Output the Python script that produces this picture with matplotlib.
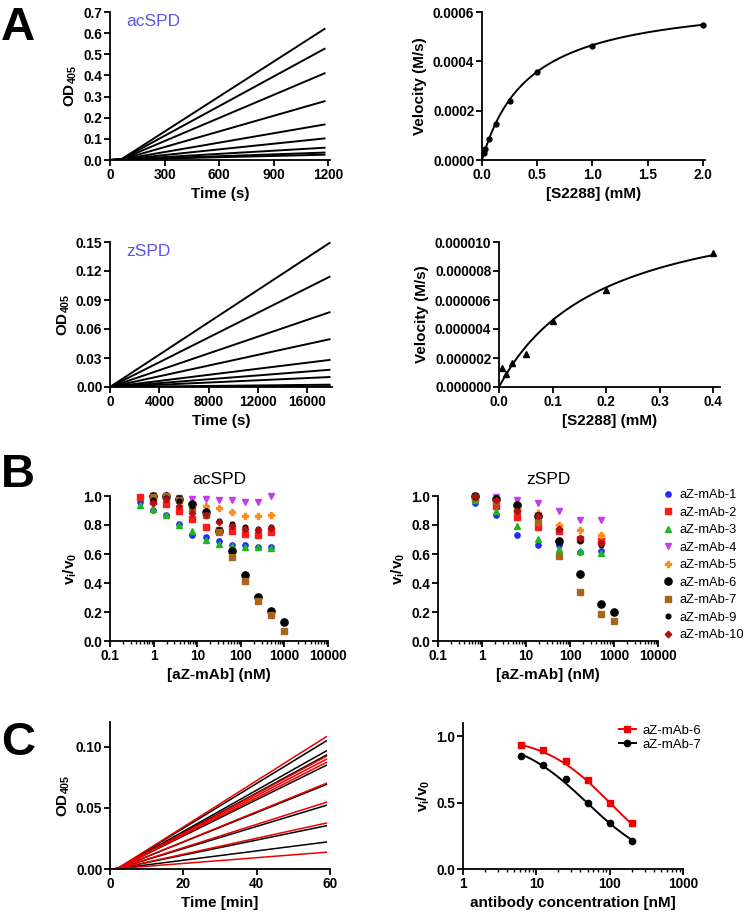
import numpy as np
import matplotlib
matplotlib.use("Agg")
import matplotlib.pyplot as plt
from matplotlib.ticker import LogLocator, NullFormatter, FormatStrFormatter

plt.rcParams['font.family'] = ['Liberation Sans', 'DejaVu Sans']
plt.rcParams['font.weight'] = 'bold'
plt.rcParams['axes.labelweight'] = 'bold'
plt.rcParams['mathtext.fontset'] = 'custom'
plt.rcParams['mathtext.rm'] = 'Liberation Sans:bold'
plt.rcParams['mathtext.it'] = 'Liberation Sans:bold'
plt.rcParams['mathtext.bf'] = 'Liberation Sans:bold'
plt.rcParams['mathtext.default'] = 'regular'

# ---------------- data ----------------
# Panel A, acSPD progress curves (OD405 at end of run)
acspd_t = [0, 60, 1180]
acspd_end = [0.62, 0.526, 0.41, 0.278, 0.168, 0.102, 0.058, 0.035, 0.025]
acspd_start = [0.0, 0.002]
# Panel A, acSPD Michaelis-Menten
acspd_S = [0.0156, 0.03125, 0.0625, 0.125, 0.25, 0.5, 1.0, 2.0]
acspd_V = [0.000030, 0.000045, 0.000085, 0.000146, 0.000240, 0.000357, 0.000462, 0.000548]
acspd_Vmax, acspd_Km = 0.000666, 0.43
# Panel A, zSPD progress curves
zspd_t = [0, 17800]
zspd_end = [0.149, 0.114, 0.0773, 0.0494, 0.028, 0.0178, 0.0103, 0.0024, 0.0007]
# Panel A, zSPD Michaelis-Menten
zspd_S = [0.00625, 0.0125, 0.025, 0.05, 0.1, 0.2, 0.4]
zspd_V = [1.30e-6, 0.92e-6, 1.65e-6, 2.29e-6, 4.58e-6, 6.68e-6, 9.27e-6]
zspd_Vmax, zspd_Km = 1.349e-5, 0.193

# Panel B
mab_names = ['aZ-mAb-1', 'aZ-mAb-2', 'aZ-mAb-3', 'aZ-mAb-4', 'aZ-mAb-5',
             'aZ-mAb-6', 'aZ-mAb-7', 'aZ-mAb-9', 'aZ-mAb-10']
ac_conc_11 = [0.49, 0.98, 1.95, 3.9, 7.8, 15.6, 31.25, 62.5, 125, 250, 500]
ac_conc_10 = [0.98, 1.95, 3.9, 7.8, 15.6, 31.25, 62.5, 125, 250, 500]
ac_conc_hi = [0.98, 1.95, 3.9, 7.8, 15.6, 31.25, 62.5, 125, 250, 500, 1000]
ac_vals = {
    'aZ-mAb-1': [0.959, 0.906, 0.867, 0.807, 0.733, 0.717, 0.687, 0.664, 0.660, 0.646, 0.646],
    'aZ-mAb-2': [0.993, 0.968, 0.945, 0.894, 0.844, 0.786, 0.763, 0.761, 0.740, 0.729, 0.749],
    'aZ-mAb-3': [0.940, 0.910, 0.870, 0.800, 0.756, 0.700, 0.670, 0.653, 0.646, 0.645, 0.640],
    'aZ-mAb-4': [1.000, 0.998, 0.986, 0.979, 0.979, 0.975, 0.975, 0.959, 0.956, 0.998],
    'aZ-mAb-5': [0.990, 0.990, 0.975, 0.945, 0.933, 0.917, 0.890, 0.864, 0.864, 0.867],
    'aZ-mAb-6': [1.000, 1.000, 0.980, 0.945, 0.890, 0.756, 0.618, 0.457, 0.303, 0.205, 0.129],
    'aZ-mAb-7': [0.990, 1.000, 0.975, 0.920, 0.870, 0.750, 0.580, 0.416, 0.274, 0.177, 0.071],
    'aZ-mAb-9': [0.970, 0.985, 0.963, 0.930, 0.894, 0.825, 0.807, 0.784, 0.775, 0.784],
    'aZ-mAb-10': [0.950, 0.980, 0.929, 0.883, 0.870, 0.818, 0.790, 0.775, 0.768, 0.780],
}
ac_x = {'aZ-mAb-1': ac_conc_11, 'aZ-mAb-2': ac_conc_11, 'aZ-mAb-3': ac_conc_11,
        'aZ-mAb-4': ac_conc_10, 'aZ-mAb-5': ac_conc_10, 'aZ-mAb-6': ac_conc_hi,
        'aZ-mAb-7': ac_conc_hi, 'aZ-mAb-9': ac_conc_10, 'aZ-mAb-10': ac_conc_10}

z_conc_7 = [0.686, 2.06, 6.17, 18.5, 55.6, 166.7, 500]
z_conc_8 = [0.686, 2.06, 6.17, 18.5, 55.6, 166.7, 500, 1000]
z_vals = {
    'aZ-mAb-1': [0.952, 0.867, 0.733, 0.660, 0.660, 0.616, 0.618],
    'aZ-mAb-2': [0.986, 0.929, 0.853, 0.786, 0.756, 0.706, 0.692],
    'aZ-mAb-3': [0.975, 0.894, 0.795, 0.706, 0.634, 0.620, 0.607],
    'aZ-mAb-4': [0.995, 0.993, 0.970, 0.952, 0.894, 0.837, 0.837],
    'aZ-mAb-5': [0.990, 0.970, 0.900, 0.885, 0.802, 0.763, 0.733],
    'aZ-mAb-6': [0.998, 0.980, 0.940, 0.860, 0.692, 0.462, 0.257, 0.198],
    'aZ-mAb-7': [0.985, 0.963, 0.906, 0.820, 0.584, 0.338, 0.186, 0.136],
    'aZ-mAb-9': [0.995, 0.985, 0.930, 0.870, 0.770, 0.690, 0.660],
    'aZ-mAb-10': [1.000, 0.975, 0.895, 0.860, 0.770, 0.710, 0.675],
}
z_x = {k: (z_conc_8 if k in ('aZ-mAb-6', 'aZ-mAb-7') else z_conc_7) for k in mab_names}

mab_colors = ['#1f2bff', '#ff1a1a', '#22b522', '#c23cf0', '#ff8c1a',
              '#000000', '#a8661c', '#000000', '#b01010']
mab_markers = ['o', 's', '^', 'v', 'P', 'o', 's', 'o', 'D']
mab_sizes = [3.8, 4.3, 4.3, 4.3, 4.5, 5.2, 4.8, 3.4, 3.3]

# Panel C left
c_t = [0, 2, 59]
c_red_end = [0.108, 0.092, 0.0896, 0.087, 0.070, 0.0545, 0.0375, 0.0137]
c_black_end = [0.1046, 0.0964, 0.093, 0.0847, 0.069, 0.052, 0.0353, 0.022]
# Panel C right
c_conc = [6.25, 12.5, 25, 50, 100, 200]
c_mab6 = [0.935, 0.900, 0.810, 0.670, 0.500, 0.350]
c_mab7 = [0.850, 0.785, 0.680, 0.495, 0.345, 0.210]
c_fit6 = dict(top=1.0, bottom=0.0, ic50=100.0, h=0.96)
c_fit7 = dict(top=1.0, bottom=0.0, ic50=49.0, h=0.90)

# ---------------- figure ----------------
W, H = 745, 913
fig = plt.figure(figsize=(W / 100, H / 100), dpi=100)
TICK = 9.8
LAB = 11


def ax_px(l, t, r, b):
    ax = fig.add_axes([l / W, 1 - b / H, (r - l) / W, (b - t) / H])
    for s in ('top', 'right'):
        ax.spines[s].set_visible(False)
    for s in ('left', 'bottom'):
        ax.spines[s].set_linewidth(1.3)
    ax.tick_params(which='major', direction='out', length=4, width=1.3, labelsize=TICK, pad=1.5)
    ax.tick_params(which='minor', direction='out', length=2.5, width=1.0)
    return ax


def style_ticks(ax):
    for lab in ax.get_xticklabels() + ax.get_yticklabels():
        lab.set_fontweight('bold')


blue_title = '#5a55ee'
OD_LABEL = 'OD$_{\\mathregular{405}}$'

# A1
ax = ax_px(110, 12, 330, 160)
for e in acspd_end:
    ax.plot(acspd_t, acspd_start + [e], color='black', lw=1.4)
ax.set_xlim(0, 1210)
ax.set_ylim(0, 0.7)
ax.set_xticks([0, 300, 600, 900, 1200])
ax.set_yticks(np.arange(0, 0.71, 0.1))
ax.yaxis.set_major_formatter(FormatStrFormatter('%.1f'))
ax.set_xlabel('Time (s)', fontsize=LAB, labelpad=4)
ax.set_ylabel(OD_LABEL, fontsize=LAB, labelpad=3)
ax.text(0.075, 0.985, 'acSPD', transform=ax.transAxes, color=blue_title, fontsize=12.5,
        fontweight='normal', va='top')
style_ticks(ax)

# A2
ax = ax_px(482, 12, 705, 160)
Sfit = np.linspace(0, 2.0, 300)
ax.plot(Sfit, acspd_Vmax * Sfit / (acspd_Km + Sfit), color='black', lw=1.4)
ax.plot(acspd_S, acspd_V, 'o', color='black', ms=3.5, clip_on=False)
ax.set_xlim(0, 2.02)
ax.set_ylim(0, 0.0006)
ax.set_xticks([0, 0.5, 1.0, 1.5, 2.0])
ax.xaxis.set_major_formatter(FormatStrFormatter('%.1f'))
ax.set_yticks([0, 0.0002, 0.0004, 0.0006])
ax.yaxis.set_major_formatter(FormatStrFormatter('%.4f'))
ax.set_xlabel('[S2288] (mM)', fontsize=LAB, labelpad=4)
ax.set_ylabel('Velocity (M/s)', fontsize=LAB, labelpad=4)
style_ticks(ax)

# A3
ax = ax_px(110, 242, 332, 387)
for e in zspd_end:
    ax.plot(zspd_t, [0, e], color='black', lw=1.4)
ax.set_xlim(0, 18000)
ax.set_ylim(0, 0.15)
ax.set_xticks([0, 4000, 8000, 12000, 16000])
ax.set_yticks([0, 0.03, 0.06, 0.09, 0.12, 0.15])
ax.yaxis.set_major_formatter(FormatStrFormatter('%.2f'))
ax.set_xlabel('Time (s)', fontsize=LAB, labelpad=4)
ax.set_ylabel(OD_LABEL, fontsize=LAB, labelpad=3)
ax.text(0.075, 0.985, 'zSPD', transform=ax.transAxes, color=blue_title, fontsize=12.5,
        fontweight='normal', va='top')
style_ticks(ax)

# A4
ax = ax_px(499, 242, 720, 387)
Sfit = np.linspace(0, 0.4, 300)
ax.plot(Sfit, zspd_Vmax * Sfit / (zspd_Km + Sfit), color='black', lw=1.4)
ax.plot(zspd_S, zspd_V, '^', color='black', ms=3.8, clip_on=False)
ax.set_xlim(0, 0.413)
ax.set_ylim(0, 0.00001)
ax.set_xticks([0, 0.1, 0.2, 0.3, 0.4])
ax.xaxis.set_major_formatter(FormatStrFormatter('%.1f'))
ax.set_yticks([0, 2e-6, 4e-6, 6e-6, 8e-6, 1e-5])
ax.yaxis.set_major_formatter(FormatStrFormatter('%.6f'))
ax.set_xlabel('[S2288] (mM)', fontsize=LAB, labelpad=4)
ax.set_ylabel('Velocity (M/s)', fontsize=LAB, labelpad=4)
style_ticks(ax)


def panel_b(ax, xs, vals, title):
    handles = []
    for name, c, m, s in zip(mab_names, mab_colors, mab_markers, mab_sizes):
        h, = ax.plot(xs[name], vals[name], linestyle='none', marker=m, color=c,
                     ms=s, mec=c, clip_on=False, label=name)
        handles.append(h)
    ax.set_xscale('log')
    ax.set_xlim(0.1, 10000)
    ax.set_ylim(0, 1.0)
    ax.set_xticks([0.1, 1, 10, 100, 1000, 10000])
    ax.set_xticklabels(['0.1', '1', '10', '100', '1000', '10000'])
    ax.xaxis.set_minor_locator(LogLocator(base=10, subs=np.arange(2, 10)))
    ax.xaxis.set_minor_formatter(NullFormatter())
    ax.set_yticks(np.arange(0, 1.01, 0.2))
    ax.yaxis.set_major_formatter(FormatStrFormatter('%.1f'))
    ax.set_xlabel('[aZ-mAb] (nM)', fontsize=LAB, labelpad=4)
    ax.set_ylabel('v$_i$/v$_0$', fontsize=LAB, labelpad=3)
    ax.set_title(title, fontsize=12.5, fontweight='normal', pad=9)
    style_ticks(ax)
    return handles


ax = ax_px(110, 496, 328, 641)
panel_b(ax, ac_x, ac_vals, 'acSPD')
ax = ax_px(438, 496, 658, 641)
hs = panel_b(ax, z_x, z_vals, 'zSPD')
leg = ax.legend(handles=hs, loc='upper left', bbox_to_anchor=(656 / W, 1 - 483 / H),
                bbox_transform=fig.transFigure, frameon=False, fontsize=9.3,
                handlelength=0.8, handletextpad=0.55, labelspacing=0.42, borderpad=0)
for t in leg.get_texts():
    t.set_fontweight('normal')

# C1
ax = ax_px(110, 722, 330, 869)
for e in c_black_end:
    ax.plot(c_t, [0, 0.0003, e], color='black', lw=1.1)
for e in c_red_end:
    ax.plot(c_t, [0, 0.0003, e], color='#ee0000', lw=1.1)
ax.set_xlim(0, 60)
ax.set_ylim(0, 0.12)
ax.set_xticks([0, 20, 40, 60])
ax.set_yticks([0, 0.05, 0.10])
ax.yaxis.set_major_formatter(FormatStrFormatter('%.2f'))
ax.set_xlabel('Time [min]', fontsize=LAB, labelpad=4)
ax.set_ylabel(OD_LABEL, fontsize=LAB, labelpad=3)
style_ticks(ax)

# C2
ax = ax_px(463, 723, 683, 869)
cf = np.logspace(np.log10(c_conc[0]), np.log10(c_conc[-1]), 200)
for fit, vals, col, mk in ((c_fit6, c_mab6, '#ee0000', 's'),
                           (c_fit7, c_mab7, 'black', 'o')):
    yfit = fit['bottom'] + (fit['top'] - fit['bottom']) / (1 + (cf / fit['ic50']) ** fit['h'])
    ax.plot(cf, yfit, color=col, lw=1.4)
    ax.plot(c_conc, vals, linestyle='none', marker=mk, color=col, ms=5 if mk == 's' else 4.5)
h6 = ax.plot([], [], color='#ee0000', marker='s', ms=5, lw=1.4, label='aZ-mAb-6')[0]
h7 = ax.plot([], [], color='black', marker='o', ms=4.5, lw=1.4, label='aZ-mAb-7')[0]
ax.set_xscale('log')
ax.set_xlim(1, 1000)
ax.set_ylim(0, 1.1)
ax.set_xticks([1, 10, 100, 1000])
ax.set_xticklabels(['1', '10', '100', '1000'])
ax.xaxis.set_minor_locator(LogLocator(base=10, subs=np.arange(2, 10)))
ax.xaxis.set_minor_formatter(NullFormatter())
ax.set_yticks([0, 0.5, 1.0])
ax.yaxis.set_major_formatter(FormatStrFormatter('%.1f'))
ax.set_xlabel('antibody concentration [nM]', fontsize=LAB, labelpad=4)
ax.set_ylabel('v$_i$/v$_0$', fontsize=LAB, labelpad=3)
leg = ax.legend(handles=[h6, h7], loc='upper left', bbox_to_anchor=(612 / W, 1 - 718 / H),
                bbox_transform=fig.transFigure, frameon=False, fontsize=9.5,
                handlelength=1.3, handletextpad=0.5, labelspacing=0.12, borderpad=0)
for t in leg.get_texts():
    t.set_fontweight('normal')
style_ticks(ax)

# panel letters
for letter, (x, y) in (('A', (1, 40)), ('B', (1, 487)), ('C', (1, 755))):
    fig.text(x / W, 1 - y / H, letter, fontsize=34, fontweight='bold', ha='left', va='baseline')

fig.savefig('out.png', dpi=100)
